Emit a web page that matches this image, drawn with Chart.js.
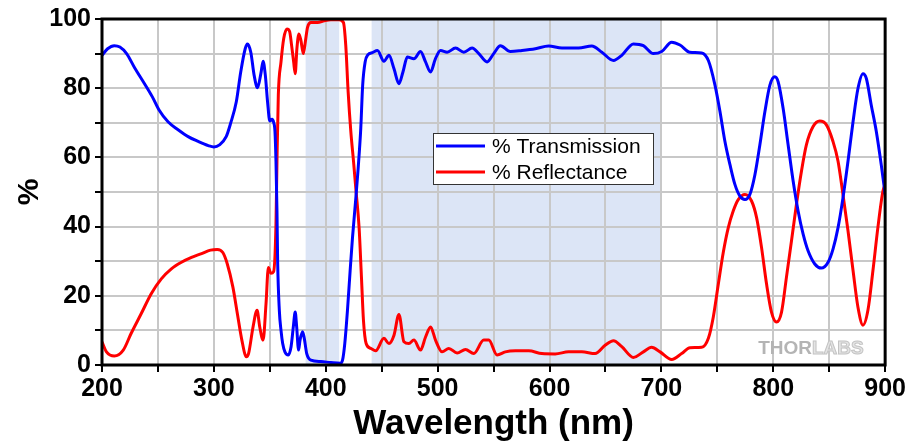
<!DOCTYPE html>
<html>
<head>
<meta charset="utf-8">
<script src="https://cdn.jsdelivr.net/npm/chart.js@4.4.1/dist/chart.umd.min.js"></script>
<style>
  html, body { margin: 0; padding: 0; background: #fff; }
  #wrap { width: 908px; height: 445px; position: relative; }
</style>
</head>
<body>
<div id="wrap"><canvas id="specChart"></canvas></div>
<script>
// Transmission curve (wavelength nm, %)
const transWave = [200, 205, 211, 216, 222, 229, 238, 245, 251, 259, 268, 277, 286, 295, 300, 305, 311, 315, 320, 324,
    328, 330, 333, 336, 339, 342, 344, 346, 348, 350, 352, 353.5, 354.6, 355.5, 356.4, 357, 358.5, 360, 361.5, 363.5,
    366.5, 369, 371, 372.7, 374, 375.7, 377, 379.3, 380.8, 383, 386.7, 395.6, 404.6, 413, 415, 417, 419.4, 421.8, 423.9, 426.9,
    429, 431.3, 433, 435.2, 437.8, 441.7, 446.2, 452, 456.5, 461, 465.4, 469, 472.9, 478.8, 484.7, 489.2, 493.7, 498, 502.6, 508.5,
    516, 523.4, 530.8, 536.8, 544.2, 550.1, 556.1, 565, 575.4, 587.3, 599.2, 611.1, 626, 637.8, 646.8, 657.2, 664.6, 675, 683.9, 692.8,
    700.3, 709.2, 716.6, 725.5, 736, 742, 747.9, 752.4, 756.8, 761.3, 765.7, 770.2, 774.7, 779.1, 783.6, 788, 792.5, 797,
    801.4, 804.4, 808.8, 813.3, 817.8, 822.2, 826.7, 831.1, 837.1, 843, 849, 853.4, 857.9, 862.3, 866.8, 871.3, 875.7, 880.2,
    883.2, 887.6, 892.1, 896.5, 900];
const transValue = [89.5, 91.4, 92.3, 91.9, 90, 86, 81.3, 77.5, 73.7, 70.3, 68, 66, 64.6, 63.4, 63, 63.6, 66, 69.9, 76, 84.7,
    91.4, 92.8, 90.4, 83.7, 80.1, 84.2, 87.8, 83.7, 76, 70.5, 71, 70, 67.5, 58.9, 44.5, 30, 15.8, 10, 6.2, 3.8,
    2.9, 5.3, 11, 15.3, 11, 4.3, 7.2, 9.6, 7.7, 3.3, 1.4, 1, 0.7, 0.5, 1.4, 6.2, 15.8, 27.3, 36.8, 48.3,
    57, 68.4, 80.9, 87.6, 89.7, 90.3, 90.9, 87.8, 89.5, 85.6, 81.3, 84.7, 89, 88.5, 90.6, 87.6, 84.7, 88.5, 90.9, 90.4,
    91.6, 90.4, 91.6, 90, 87.6, 90, 92.3, 90.6, 90.9, 91.4, 92.2, 91.6, 91.6, 92.2, 90.4, 88, 89.5, 92.8, 92.3, 90,
    90.6, 93.3, 92.5, 90.4, 90.2, 88, 80.9, 73.2, 64.6, 57.9, 52.2, 48.8, 47.8, 49.3, 55, 63.6, 73.2, 80.9,
    83.3, 81.8, 74.2, 63.6, 53.1, 44.5, 37.8, 33, 29.2, 28, 29.7, 33.5, 39.7, 48.3, 58.9, 70.3, 79.9, 84.2,
    82.8, 75.1, 67.5, 57.9, 49.3];

// Reflectance curve (wavelength nm, %)
const reflWave = [200, 204, 211, 219, 226, 235, 244, 253, 262, 271, 280, 289, 297, 303, 308, 312, 317, 321, 325, 329,
    331, 335, 338.6, 341, 344, 346.6, 348.7, 351, 353.4, 355.5, 356.4, 357.6, 360, 362.4, 365.3, 367.7, 369.5, 371.3, 372.7, 374.2,
    376, 377.8, 379.9, 381.7, 383.7, 386.7, 392.7, 398.6, 404.6, 412, 415.8, 417.9, 420, 422.4, 424.8, 427.1, 429.8, 431.9, 433.7, 436.1,
    440.2, 444.6, 452, 456.5, 461, 465.4, 469.9, 474.3, 478.8, 484.7, 489.2, 493.7, 498.1, 504, 510, 517.4, 524.9, 532.3, 541.2, 545.7,
    553.1, 560.5, 569.5, 581.4, 593.2, 605.1, 617, 628.9, 640.8, 649.7, 657.2, 664.6, 675, 683.9, 691.3, 698.8, 709.2, 718.1, 725.5, 736,
    742, 746.4, 750.9, 755.3, 759.8, 764.2, 768.7, 774.7, 780.6, 785.1, 789.5, 794, 798.4, 802.9, 807.4, 811.8, 816.3, 820.7, 825.2, 829.6,
    835.6, 841.5, 847.5, 853.4, 857.9, 862.3, 866.8, 871.3, 875.7, 880.2, 884.6, 889.1, 893.5, 898, 900];
const reflValue = [6.7, 3.8, 2.6, 4.3, 9.1, 14.8, 20.6, 24.9, 27.8, 29.7, 31.1, 32.2, 33.2, 33.4, 32.5, 29.2, 22.5, 14.8, 7.2, 2.4,
    3.3, 11, 15.8, 11, 7.2, 17.7, 28.2, 26.5, 27, 40.7, 58.9, 78, 87.6, 94.3, 97.1, 96.4, 92.3, 87.6, 84.2, 91.4,
    95.7, 93.8, 90, 93.3, 97.6, 99, 99, 99.5, 99.8, 99.8, 99, 92.3, 79, 67.5, 58.9, 50.2, 39.7, 25.4, 12.9, 6.2,
    4.8, 4.1, 7.7, 6.2, 8.6, 14.6, 6.7, 6.2, 7.2, 4.3, 8.1, 11, 7.2, 3.8, 4.8, 3.5, 4.5, 3.3, 7.2, 7.2,
    2.9, 3.8, 4.1, 4.1, 3.3, 3.2, 3.8, 3.8, 3.3, 5.7, 7, 5.3, 2.2, 3.8, 5.1, 3.8, 1.6, 3.3, 5, 5.1,
    7.7, 13.9, 23.4, 32.5, 39.7, 44.5, 47.8, 49.3, 47.4, 42.6, 34, 23.4, 15.3, 12.4, 15.3, 25.4, 35.9, 46.4, 56, 63.6,
    68.9, 70.5, 69.4, 64.6, 58.9, 49.3, 38.8, 27.3, 16.7, 11.5, 15.8, 27.3, 39.7, 50.2, 52.2];

// Shaded wavelength bands (nm)
const bandStart = [382, 441];
const bandEnd = [412, 700];

// Labelled ticks
const xTicks = [200, 300, 400, 500, 600, 700, 800, 900];
const yTicks = [0, 20, 40, 60, 80, 100];

const seriesLabels = ['% Transmission', '% Reflectance'];
const seriesColors = ['#0000ff', '#ff0000'];

function toPoints(xs, ys) {
    return xs.map((x, i) => ({ x: x, y: ys[i] }));
}

// shaded bands behind the grid
const bandPlugin = {
    id: 'bands',
    beforeDraw(chart) {
        const { ctx, chartArea, scales } = chart;
        ctx.save();
        ctx.fillStyle = '#dce5f6';
        bandStart.forEach((s, i) => {
            const x0 = scales.x.getPixelForValue(s);
            const x1 = scales.x.getPixelForValue(bandEnd[i]);
            ctx.fillRect(x0, chartArea.top, x1 - x0, chartArea.bottom - chartArea.top);
        });
        ctx.restore();
    }
};

// frame, legend box and watermark
const framePlugin = {
    id: 'frame',
    afterDraw(chart) {
        const { ctx, chartArea } = chart;
        ctx.save();

        // watermark
        ctx.font = 'bold 19px "Liberation Sans", Arial, sans-serif';
        ctx.textBaseline = 'alphabetic';
        ctx.textAlign = 'left';
        const wx = chartArea.right - 127, wy = chartArea.bottom - 11;
        ctx.fillStyle = '#b4b4b4';
        ctx.fillText('THOR', wx, wy);
        const tw = ctx.measureText('THOR').width;
        ctx.fillStyle = '#e4e4e4';
        ctx.strokeStyle = '#c4c4c4';
        ctx.lineWidth = 1;
        ctx.fillText('LABS', wx + tw, wy);
        ctx.strokeText('LABS', wx + tw, wy);

        // legend
        const lx = 433, ly = 133, lw = 220, lh = 51;
        ctx.fillStyle = '#ffffff';
        ctx.fillRect(lx, ly, lw, lh);
        ctx.strokeStyle = '#333333';
        ctx.lineWidth = 1;
        ctx.strokeRect(lx + 0.5, ly + 0.5, lw, lh);
        ctx.font = '21px "Liberation Sans", Arial, sans-serif';
        ctx.textBaseline = 'middle';
        chart.data.datasets.forEach((ds, i) => {
            const cy = ly + 13 + i * 26;
            ctx.strokeStyle = ds.borderColor;
            ctx.lineWidth = 3;
            ctx.beginPath();
            ctx.moveTo(lx + 3, cy);
            ctx.lineTo(lx + 52, cy);
            ctx.stroke();
            ctx.fillStyle = '#000';
            ctx.fillText(ds.label, lx + 59, cy + 1);
        });

        // black box round the plot
        ctx.strokeStyle = '#000';
        ctx.lineWidth = 3;
        ctx.strokeRect(chartArea.left, chartArea.top, chartArea.right - chartArea.left, chartArea.bottom - chartArea.top);
        ctx.restore();
    }
};

const tickFont = { family: '"Liberation Sans", Arial, sans-serif', size: 25, weight: 'bold' };

new Chart(document.getElementById('specChart'), {
    type: 'line',
    data: {
        datasets: [
            {
                label: seriesLabels[0],
                data: toPoints(transWave, transValue),
                borderColor: seriesColors[0],
                borderWidth: 3,
                pointRadius: 0,
                cubicInterpolationMode: 'monotone'
            },
            {
                label: seriesLabels[1],
                data: toPoints(reflWave, reflValue),
                borderColor: seriesColors[1],
                borderWidth: 3,
                pointRadius: 0,
                cubicInterpolationMode: 'monotone'
            }
        ]
    },
    options: {
        responsive: true,
        maintainAspectRatio: false,
        animation: false,
        layout: { padding: { top: 17, right: 20, left: 0, bottom: 0 } },
        plugins: {
            legend: { display: false },
            tooltip: { enabled: false }
        },
        scales: {
            x: {
                type: 'linear',
                min: 200,
                max: 900,
                afterFit: s => { s.height = 80; },
                ticks: {
                    stepSize: 50,
                    autoSkip: false,
                    maxRotation: 0,
                    padding: 2,
                    color: '#000',
                    font: tickFont,
                    callback: v => xTicks.includes(v) ? String(v) : ''
                },
                grid: { color: '#c8c8c8', lineWidth: 2, tickColor: '#000', tickLength: 7, tickWidth: 2 },
                border: { display: false },
                title: {
                    display: true,
                    text: 'Wavelength (nm)',
                    color: '#000',
                    font: { family: '"Liberation Sans", Arial, sans-serif', size: 35, weight: 'bold' },
                    padding: { top: 0, bottom: 0 }
                }
            },
            y: {
                min: 0,
                max: 100,
                afterFit: s => { s.width = 102; },
                ticks: {
                    stepSize: 10,
                    autoSkip: false,
                    padding: 4,
                    color: '#000',
                    font: tickFont,
                    callback: v => yTicks.includes(v) ? String(v) : ''
                },
                grid: { color: '#c8c8c8', lineWidth: 2, tickColor: '#000', tickLength: 7, tickWidth: 2 },
                border: { display: false },
                title: {
                    display: true,
                    text: '%',
                    color: '#000',
                    font: { family: '"Liberation Sans", Arial, sans-serif', size: 30, weight: 'bold' },
                    padding: { top: 12, bottom: 0 }
                }
            }
        }
    },
    plugins: [bandPlugin, framePlugin]
});
</script>
</body>
</html>
